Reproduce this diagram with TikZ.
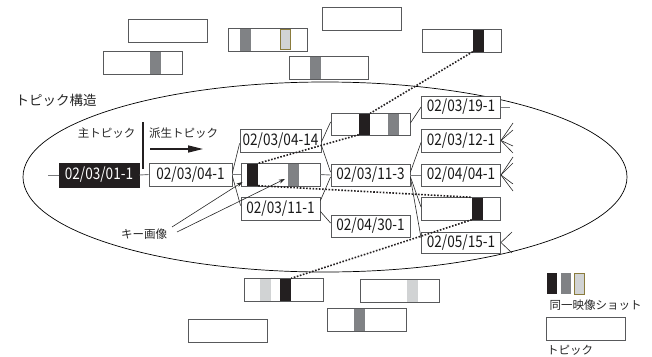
\documentclass[tikz,border=0pt]{standalone}
\usepackage{fontspec}
\setmainfont{Noto Sans CJK JP}
\newfontfamily\numf[FakeStretch=0.85]{Noto Sans CJK JP}
\usetikzlibrary{arrows.meta,shapes.geometric}
\definecolor{barblack}{HTML}{231F20}
\definecolor{bargray}{HTML}{808285}
\definecolor{barlight}{HTML}{D1D3D4}
\definecolor{oliveb}{HTML}{8A7B3C}
\definecolor{edgegray}{HTML}{58595B}
\tikzset{
 box/.style={draw=edgegray, line width=0.9pt, fill=white, minimum width=79pt, minimum height=23pt, inner sep=0pt, font=\numf\fontsize{16}{17}\selectfont, text=black!90},
 blackbox/.style={box, fill=barblack, text=white, draw=barblack},
 bar/.style={inner sep=0pt, minimum width=11pt, minimum height=22pt, draw=none},
 conn/.style={line width=0.6pt, black!85},
 gconn/.style={line width=0.9pt, edgegray!80},
 dotl/.style={line width=1.6pt, dash pattern=on 1.6pt off 1.6pt, barblack},
 jp/.style={font=\fontsize{11.5}{13}\selectfont, text=black!85, inner sep=0pt},
}
\begin{document}
\begin{tikzpicture}[x=1pt,y=-1pt]
\useasboundingbox (0,0) rectangle (652,356);
% structure ellipse
\node[ellipse, draw, line width=0.7pt, minimum width=604pt, minimum height=190pt, inner sep=0pt] (struct) at (325,177) {};
\node[jp, font=\fontsize{13.5}{15}\selectfont] (ttl) at (56,100) {トピック構造};

% top boxes
\node[box] (tA) at (167.5,30.5) {};
\node[box] (tB) at (142.5,62.5) {};
\node[bar, fill=bargray] (tBg) at (155.5,62.5) {};
\node[box] (tC) at (267.5,39.5) {};
\node[bar, fill=bargray] (tCg) at (245.5,39.5) {};
\node[bar, fill=barlight, draw=oliveb, line width=0.8pt, minimum width=10pt, minimum height=20pt] (tCl) at (285.5,39.5) {};
\node[box] (tD) at (362,18.5) {};
\node[box] (tE) at (329,68) {};
\node[bar, fill=bargray] (tEg) at (315.5,68) {};
\node[box] (tF) at (461.5,40.5) {};
\node[bar, fill=barblack] (bF) at (478.5,40.5) {};

% bottom boxes
\node[box] (bmG) at (284,289.5) {};
\node[bar, fill=barlight] (bGl) at (265.5,289.5) {};
\node[bar, fill=barblack] (bG) at (285.5,289.5) {};
\node[box] (bmH) at (399.5,290.5) {};
\node[bar, fill=barlight] (bHl) at (412.5,290.5) {};
\node[box] (bmI) at (366.5,319.5) {};
\node[bar, fill=bargray] (bIg) at (359.5,319.5) {};
\node[box] (bmJ) at (227.5,330.5) {};

% main / derived labels
\node[jp] (mainl) at (106.5,133) {主トピック};
\node[jp] (derl) at (183.5,133) {派生トピック};
\coordinate (divT) at (143,122);
\coordinate (divB) at (143,169);
\draw[line width=1.3pt, barblack] (divT) -- (divB);
\coordinate (arS) at (150,149);
\coordinate (arE) at (203,149);
\draw[line width=1.3pt, barblack, -{Triangle[length=15pt,width=7pt]}] (arS) -- (arE);

% topic nodes
\node[blackbox, minimum width=80pt, minimum height=24pt] (n0101) at (99,175) {02/03/01-1};
\node[box, minimum width=83pt] (n0401) at (190.5,174.5) {02/03/04-1};
\node[box, minimum width=81pt] (n040414) at (280.5,140.5) {02/03/04-14};
\node[box] (s1) at (280.5,174.5) {};
\node[bar, fill=barblack] (b1) at (252.5,174.5) {};
\node[bar, fill=bargray] (b1g) at (293.5,174.5) {};
\node[box] (n1101) at (280.5,208.5) {02/03/11-1};
\node[box, minimum height=22pt] (s2) at (370.5,124) {};
\node[bar, fill=barblack, minimum height=21pt] (b2) at (364.5,124) {};
\node[bar, fill=bargray, minimum height=21pt] (b2g) at (393.5,124) {};
\node[box, minimum height=22pt] (n1103) at (370.5,175) {02/03/11-3};
\node[box, minimum height=22pt] (n0430) at (370.5,226) {02/04/30-1};
\node[box, minimum height=22pt] (n1901) at (461,107) {02/03/19-1};
\node[box] (n1201) at (461,140.5) {02/03/12-1};
\node[box, minimum height=22pt] (n0404) at (461,175) {02/04/04-1};
\node[box] (s3) at (461,208.5) {};
\node[bar, fill=barblack] (b3) at (477.5,208.5) {};
\node[box, minimum height=21pt] (n0515) at (461,242.5) {02/05/15-1};

% connectors
\coordinate (lead) at (48,175);
\draw[gconn] (lead) -- (n0101.west);
\draw[gconn] (n0101.east) -- (n0401.west);
\draw[gconn] (n0401.east) -- (s1.west);
\draw[conn] ([yshift=2pt]n0401.east) -- ([yshift=-3pt]n040414.west);
\draw[conn] ([yshift=-2pt]n0401.east) -- ([yshift=3pt]n1101.west);
\draw[conn] ([yshift=-1.5pt]n040414.east) -- ([yshift=2pt]s2.west);
\draw[conn] ([yshift=-5pt]n040414.east) -- ([yshift=3pt]n1103.west);
\draw[gconn] (s1.east) -- (n1103.west);
\draw[conn] ([yshift=8pt]n1101.east) -- ([yshift=-2pt]n1103.west);
\draw[conn] ([yshift=-3pt]n1101.east) -- ([yshift=3pt]n0430.west);
\draw[conn] ([yshift=1pt]s2.east) -- (n1901.west);
\coordinate (e1901) at (510,107);
\draw[gconn] (n1901.east) -- (e1901);
\draw[conn] ([yshift=3pt]n1103.east) -- ([yshift=-2pt]n1201.west);
\draw[gconn] (n1103.east) -- (n0404.west);
\draw[conn] ([yshift=-2pt]n1103.east) -- ([yshift=1.5pt]s3.west);
\draw[conn] ([yshift=-3pt]n1103.east) -- ([yshift=4.5pt]n0515.west);
% fans
\foreach \yy [count=\i] in {123,130,146,153} {
  \coordinate (fa\i) at (513,\yy);
  \draw[conn] (n1201.east) -- (fa\i);
}
\foreach \yy [count=\i] in {157,163,184,191} {
  \coordinate (fb\i) at (513,\yy);
  \draw[conn] (n0404.east) -- (fb\i);
}
\foreach \yy [count=\i] in {232,253} {
  \coordinate (fc\i) at (512,\yy);
  \draw[conn] (n0515.east) -- (fc\i);
}

% same-shot dotted links
\draw[dotl] (bF.south west) -- (b2.north east);
\draw[dotl] (b2.south west) -- (b1.north east);
\draw[dotl] (b1.south east) -- (b3.north west);
\draw[dotl] (b3.south west) -- (bG.north east);

% key image
\node[jp] (key) at (144,234) {キー画像};
\coordinate (k1s) at (172,227);
\coordinate (k2s) at (177,232);
\draw[conn, -{Stealth[length=6pt,width=4pt]}] (k1s) -- ([shift={(2pt,-7.5pt)}]s1.west);
\draw[conn, -{Stealth[length=6pt,width=4pt]}] (k2s) -- ([shift={(-3pt,-4.5pt)}]b1g.west);

% legend
\node[bar, fill=barblack, minimum width=10pt, minimum height=21pt] (lgB) at (552,283.5) {};
\node[bar, fill=bargray, minimum width=10pt, minimum height=21pt] (lgG) at (566,283.5) {};
\node[bar, fill=barlight, draw=oliveb, line width=0.8pt, minimum width=10pt, minimum height=21pt] (lgL) at (579,283.5) {};
\node[jp] (lgT1) at (595.5,305) {同一映像ショット};
\node[box] (lgBox) at (586,328.5) {};
\node[jp] (lgT2) at (570,350) {トピック};
\end{tikzpicture}
\end{document}
